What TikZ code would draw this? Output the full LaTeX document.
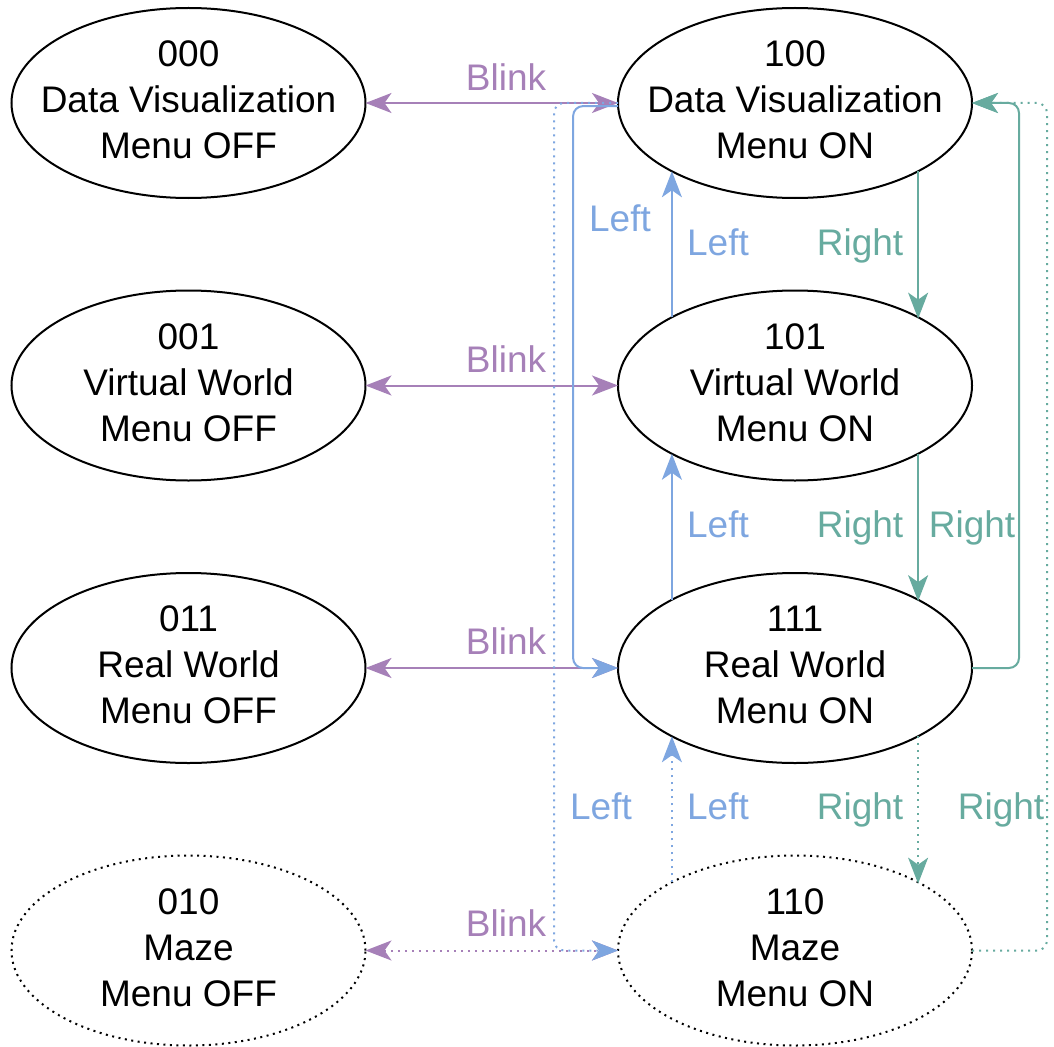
\documentclass[tikz,border=0pt]{standalone}
\usepackage{fontspec}
\setmainfont{Liberation Sans}
\usetikzlibrary{arrows.meta,shapes.geometric}
\definecolor{blinkc}{HTML}{A680B8}
\definecolor{leftc}{HTML}{7EA6E0}
\definecolor{rightc}{HTML}{67AB9F}
\begin{document}
\begin{tikzpicture}[x=1pt,y=-1pt,
  >={Stealth[length=26pt,width=20pt,inset=7pt]},
  state/.style={ellipse,draw=black,line width=2pt,minimum width=354pt,
    minimum height=190pt,inner sep=0pt,outer sep=0pt},
  optstate/.style={state,dash pattern=on 2pt off 4.5pt},
  statetext/.style={align=center,inner sep=0pt,
    font=\fontsize{37}{46}\selectfont,yshift=3pt},
  lbl/.style={inner sep=0pt,font=\fontsize{37}{46}\selectfont,
    text height=26.5pt,text depth=0pt},
  blinkline/.style={draw=blinkc,line width=2pt,<->},
  leftline/.style={draw=leftc,line width=2pt,->,rounded corners=10pt},
  rightline/.style={draw=rightc,line width=2pt,->,rounded corners=10pt},
  dotline/.style={dash pattern=on 2pt off 5pt},
]
\useasboundingbox (0,0) rectangle (1054,1046);

% states: menu off (left column) and menu on (right column)
\node[state]    (s000) at (188.5,103)   {};
\node[state]    (s001) at (188.5,385.5) {};
\node[state]    (s011) at (188.5,668)   {};
\node[optstate] (s010) at (188.5,950.5) {};
\node[state]    (s100) at (795,103)     {};
\node[state]    (s101) at (795,385.5)   {};
\node[state]    (s111) at (795,668)     {};
\node[optstate] (s110) at (795,950.5)   {};

\node[statetext] (t000) at (s000) {000\\Data Visualization\\Menu OFF};
\node[statetext] (t001) at (s001) {001\\Virtual World\\Menu OFF};
\node[statetext] (t011) at (s011) {011\\Real World\\Menu OFF};
\node[statetext] (t010) at (s010) {010\\Maze\\Menu OFF};
\node[statetext] (t100) at (s100) {100\\Data Visualization\\Menu ON};
\node[statetext] (t101) at (s101) {101\\Virtual World\\Menu ON};
\node[statetext] (t111) at (s111) {111\\Real World\\Menu ON};
\node[statetext] (t110) at (s110) {110\\Maze\\Menu ON};

% blink toggles the menu
\draw[blinkline] (s000.east) -- (s100.west);
\draw[blinkline] (s001.east) -- (s101.west);
\draw[blinkline] (s011.east) -- (s111.west);
\draw[blinkline,dotline] (s010.east) -- (s110.west);

% left transitions (vertical between stacked states)
\draw[leftline] (s101.151) -- (s100.209 -| s101.151);
\draw[leftline] (s111.151) -- (s101.209 -| s111.151);
\draw[leftline,dotline] (s110.151) -- (s111.209 -| s110.151);
\draw[leftline] (s100.181.5) -- ++(-45,0) |- (s111.west);
\draw[leftline,dotline] (s100.west) -- ++(-64,0) |- (s110.west);

% right transitions
\draw[rightline] (s100.331.7) -- (s101.28.3 -| s100.331.7);
\draw[rightline] (s101.331.7) -- (s111.28.3 -| s101.331.7);
\draw[rightline,dotline] (s111.331.7) -- (s110.28.3 -| s111.331.7);
\draw[rightline] (s111.east) -- ++(47,0) |- (s100.east);
\draw[rightline,dotline] (s110.east) -- ++(75,0) |- (s100.east);

% transition labels
\node[lbl,text=blinkc] (b1) at (506,77)  {Blink};
\node[lbl,text=blinkc] (b2) at (506,359) {Blink};
\node[lbl,text=blinkc] (b3) at (506,641) {Blink};
\node[lbl,text=blinkc] (b4) at (506,923) {Blink};

\node[lbl,text=leftc] (l1) at (620,218) {Left};
\node[lbl,text=leftc] (l2) at (718,242) {Left};
\node[lbl,text=leftc] (l3) at (718,524) {Left};
\node[lbl,text=leftc] (l4) at (718,806) {Left};
\node[lbl,text=leftc] (l5) at (601,806) {Left};

\node[lbl,text=rightc] (r1) at (860,242)  {Right};
\node[lbl,text=rightc] (r2) at (860,524)  {Right};
\node[lbl,text=rightc] (r3) at (972,524)  {Right};
\node[lbl,text=rightc] (r4) at (860,806)  {Right};
\node[lbl,text=rightc] (r5) at (1001,806) {Right};
\end{tikzpicture}
\end{document}
